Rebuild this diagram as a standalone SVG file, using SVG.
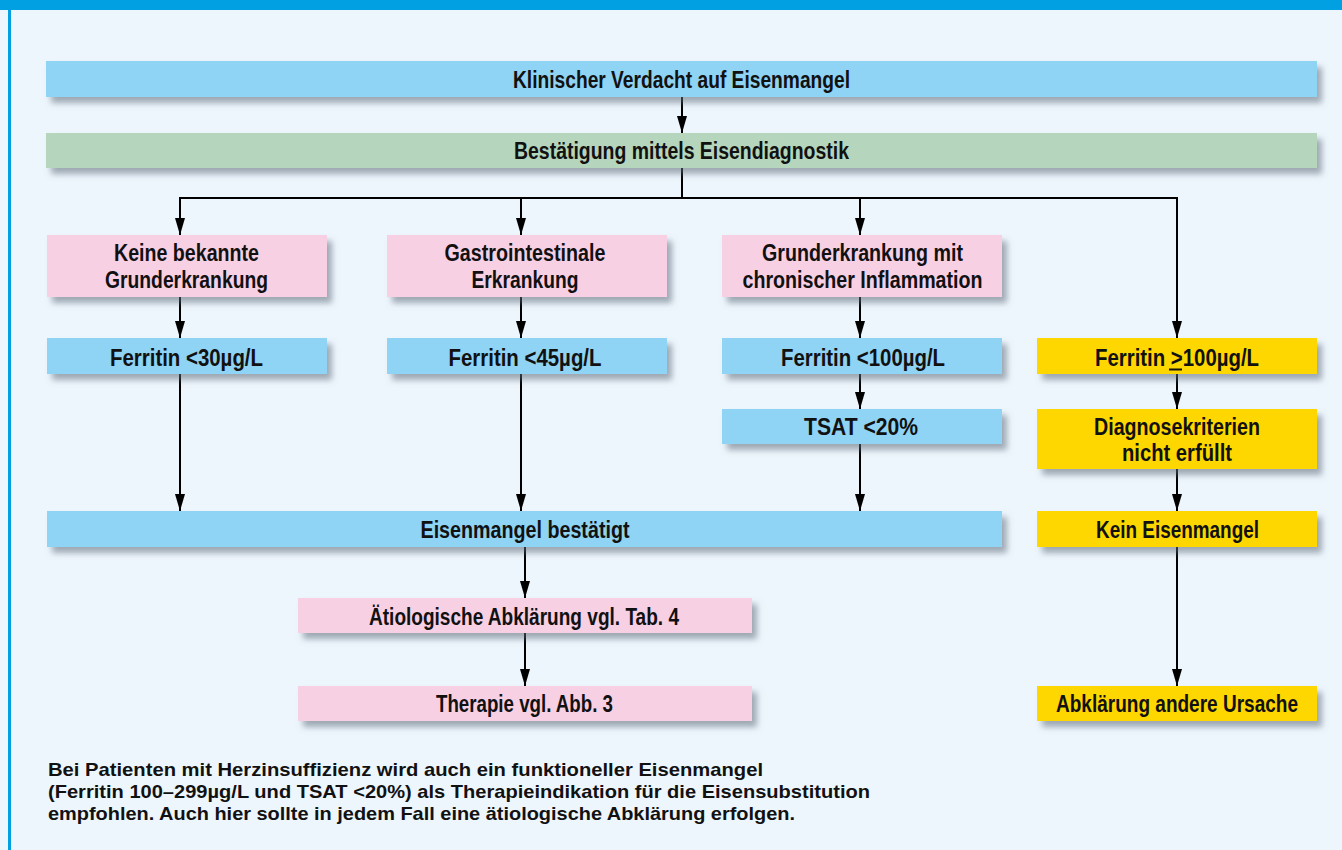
<svg xmlns="http://www.w3.org/2000/svg" width="1342" height="850" viewBox="0 0 1342 850">
<defs>
<style>
.t{font-family:"Liberation Sans",Arial,sans-serif;font-weight:bold;font-size:23px;fill:#111;text-anchor:middle}
.f{font-family:"Liberation Sans",Arial,sans-serif;font-weight:bold;font-size:19px;fill:#111}
.blue{fill:#8fd3f5}
.green{fill:#b5d6bc}
.pink{fill:#f8d0e4}
.yellow{fill:#ffd700}
.c{stroke:#000;stroke-width:2;fill:none}
</style>
<filter id="sh" x="-5%" y="-30%" width="115%" height="180%">
<feDropShadow dx="5" dy="6" stdDeviation="3" flood-color="#5d6a78" flood-opacity="0.55"/>
</filter>
<marker id="ah" viewBox="0 0 17 10" refX="17" refY="5" markerWidth="17" markerHeight="10" markerUnits="userSpaceOnUse" orient="auto">
<path d="M0,0 L17,5 L0,10 Z" fill="#000"/>
</marker>
</defs>
<rect x="0" y="0" width="1342" height="850" fill="#eef6fd"/>
<rect x="0" y="0" width="1342" height="10" fill="#00a0e3"/>
<rect x="8" y="0" width="3" height="850" fill="#00a0e3"/>

<g id="connectors">
<line class="c" x1="682" y1="97" x2="682" y2="133" marker-end="url(#ah)"/>
<polyline class="c" points="682,168 682,198"/>
<line class="c" x1="180" y1="198" x2="1177" y2="198"/>
<line class="c" x1="180" y1="197" x2="180" y2="235" marker-end="url(#ah)"/>
<line class="c" x1="521" y1="197" x2="521" y2="235" marker-end="url(#ah)"/>
<line class="c" x1="860" y1="197" x2="860" y2="235" marker-end="url(#ah)"/>
<line class="c" x1="1177" y1="197" x2="1177" y2="338" marker-end="url(#ah)"/>
<line class="c" x1="180" y1="297" x2="180" y2="338" marker-end="url(#ah)"/>
<line class="c" x1="521" y1="297" x2="521" y2="338" marker-end="url(#ah)"/>
<line class="c" x1="860" y1="297" x2="860" y2="338" marker-end="url(#ah)"/>
<line class="c" x1="180" y1="374" x2="180" y2="511" marker-end="url(#ah)"/>
<line class="c" x1="521" y1="374" x2="521" y2="511" marker-end="url(#ah)"/>
<line class="c" x1="860" y1="374" x2="860" y2="409" marker-end="url(#ah)"/>
<line class="c" x1="860" y1="444" x2="860" y2="511" marker-end="url(#ah)"/>
<line class="c" x1="1177" y1="374" x2="1177" y2="409" marker-end="url(#ah)"/>
<line class="c" x1="1177" y1="469" x2="1177" y2="511" marker-end="url(#ah)"/>
<line class="c" x1="1177" y1="547" x2="1177" y2="686" marker-end="url(#ah)"/>
<line class="c" x1="525" y1="547" x2="525" y2="598" marker-end="url(#ah)"/>
<line class="c" x1="525" y1="633" x2="525" y2="686" marker-end="url(#ah)"/>
</g>

<g id="n1"><rect class="blue" filter="url(#sh)" x="46" y="61" width="1271" height="36"/>
<text class="t" x="681.5" y="88" textLength="337" lengthAdjust="spacingAndGlyphs">Klinischer Verdacht auf Eisenmangel</text></g>

<g id="n2"><rect class="green" filter="url(#sh)" x="46" y="133" width="1271" height="35"/>
<text class="t" x="681.5" y="159" textLength="335" lengthAdjust="spacingAndGlyphs">Bestätigung mittels Eisendiagnostik</text></g>

<g id="n3"><rect class="pink" filter="url(#sh)" x="47" y="235" width="280" height="62"/>
<text class="t" x="186.5" y="261" textLength="145" lengthAdjust="spacingAndGlyphs">Keine bekannte</text>
<text class="t" x="186.5" y="288" textLength="163" lengthAdjust="spacingAndGlyphs">Grunderkrankung</text></g>

<g id="n4"><rect class="pink" filter="url(#sh)" x="387" y="235" width="280" height="62"/>
<text class="t" x="525" y="261" textLength="161" lengthAdjust="spacingAndGlyphs">Gastrointestinale</text>
<text class="t" x="525" y="288" textLength="107" lengthAdjust="spacingAndGlyphs">Erkrankung</text></g>

<g id="n5"><rect class="pink" filter="url(#sh)" x="722" y="235" width="280" height="62"/>
<text class="t" x="862.5" y="261" textLength="201" lengthAdjust="spacingAndGlyphs">Grunderkrankung mit</text>
<text class="t" x="862.5" y="288" textLength="240" lengthAdjust="spacingAndGlyphs">chronischer Inflammation</text></g>

<g id="n6"><rect class="blue" filter="url(#sh)" x="47" y="338" width="280" height="36"/>
<text class="t" x="186.5" y="366" textLength="153" lengthAdjust="spacingAndGlyphs">Ferritin &lt;30µg/L</text></g>

<g id="n7"><rect class="blue" filter="url(#sh)" x="387" y="338" width="280" height="36"/>
<text class="t" x="525" y="366" textLength="153" lengthAdjust="spacingAndGlyphs">Ferritin &lt;45µg/L</text></g>

<g id="n8"><rect class="blue" filter="url(#sh)" x="722" y="338" width="280" height="36"/>
<text class="t" x="863" y="366" textLength="164" lengthAdjust="spacingAndGlyphs">Ferritin &lt;100µg/L</text></g>

<g id="n9"><rect class="yellow" filter="url(#sh)" x="1037" y="338" width="280" height="36"/>
<text class="t" x="1177" y="366" textLength="164" lengthAdjust="spacingAndGlyphs">Ferritin &gt;100µg/L</text>
<line x1="1169" y1="369.5" x2="1182" y2="369.5" stroke="#111" stroke-width="2"/></g>

<g id="n10"><rect class="blue" filter="url(#sh)" x="722" y="409" width="280" height="35"/>
<text class="t" x="861" y="435" textLength="114" lengthAdjust="spacingAndGlyphs">TSAT &lt;20%</text></g>

<g id="n11"><rect class="yellow" filter="url(#sh)" x="1037" y="409" width="280" height="60"/>
<text class="t" x="1177" y="435" textLength="166" lengthAdjust="spacingAndGlyphs">Diagnosekriterien</text>
<text class="t" x="1177" y="461" textLength="110" lengthAdjust="spacingAndGlyphs">nicht erfüllt</text></g>

<g id="n12"><rect class="blue" filter="url(#sh)" x="47" y="511" width="955" height="36"/>
<text class="t" x="525" y="538" textLength="209" lengthAdjust="spacingAndGlyphs">Eisenmangel bestätigt</text></g>

<g id="n13"><rect class="yellow" filter="url(#sh)" x="1037" y="511" width="280" height="36"/>
<text class="t" x="1177.5" y="538" textLength="163" lengthAdjust="spacingAndGlyphs">Kein Eisenmangel</text></g>

<g id="n14"><rect class="pink" filter="url(#sh)" x="298" y="598" width="454" height="35"/>
<text class="t" x="524" y="625" textLength="310" lengthAdjust="spacingAndGlyphs">Ätiologische Abklärung vgl. Tab. 4</text></g>

<g id="n15"><rect class="pink" filter="url(#sh)" x="298" y="686" width="454" height="35"/>
<text class="t" x="524.5" y="712" textLength="177" lengthAdjust="spacingAndGlyphs">Therapie vgl. Abb. 3</text></g>

<g id="n16"><rect class="yellow" filter="url(#sh)" x="1037" y="686" width="280" height="35"/>
<text class="t" x="1177" y="712" textLength="242" lengthAdjust="spacingAndGlyphs">Abklärung andere Ursache</text></g>

<g id="note">
<text class="f" x="48" y="776" textLength="715" lengthAdjust="spacingAndGlyphs">Bei Patienten mit Herzinsuffizienz wird auch ein funktioneller Eisenmangel</text>
<text class="f" x="48" y="798" textLength="822" lengthAdjust="spacingAndGlyphs">(Ferritin 100–299µg/L und TSAT &lt;20%) als Therapieindikation für die Eisensubstitution</text>
<text class="f" x="48" y="820" textLength="747" lengthAdjust="spacingAndGlyphs">empfohlen. Auch hier sollte in jedem Fall eine ätiologische Abklärung erfolgen.</text>
</g>
</svg>
